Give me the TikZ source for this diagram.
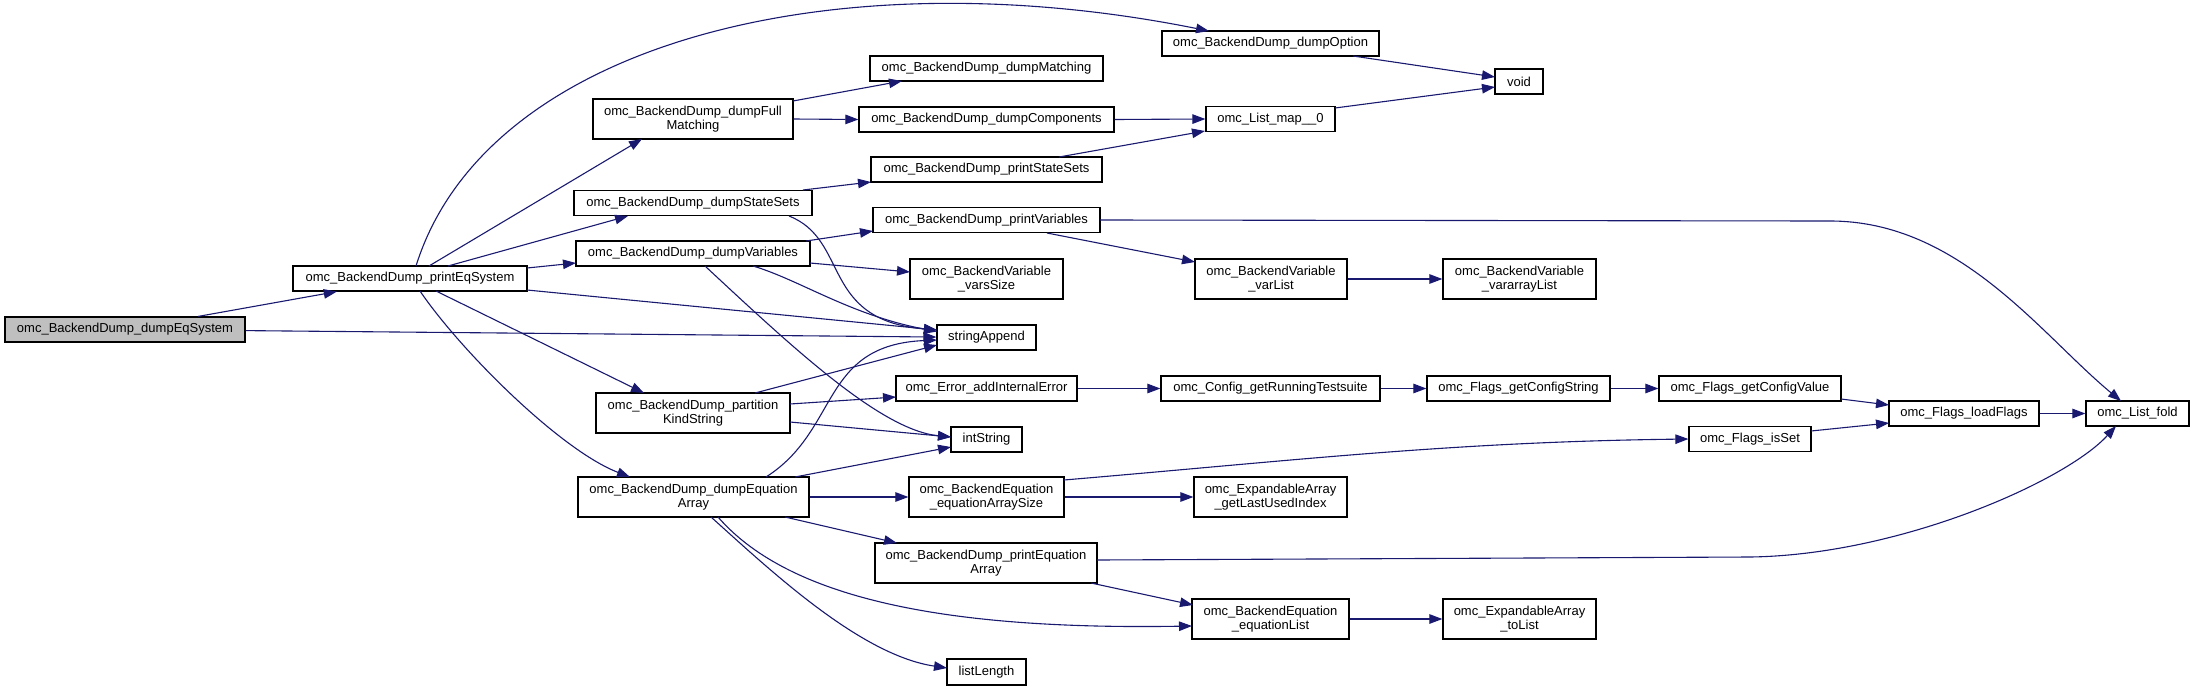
\documentclass[tikz,border=0pt]{standalone}
\usepackage{fontspec}
\setmainfont{Liberation Sans}
\usetikzlibrary{arrows.meta,calc}
\definecolor{edgeblue}{HTML}{191970}
\definecolor{rootgray}{HTML}{BFBFBF}
\tikzset{
  box/.style={draw=black, line width=1.2pt, fill=white, rectangle, inner sep=0pt, align=center, font=\fontsize{13}{14.7}\selectfont},
  call/.style={draw=edgeblue, line width=1.1pt, -{Triangle[length=13pt,width=9.5pt]}},
}
\begin{document}
\begin{tikzpicture}[x=1pt,y=-1pt]
\useasboundingbox (0,0) rectangle (2195,691);
% nodes
\node[box, fill=rootgray, minimum width=240, minimum height=25] (A) at (125,329.5) {omc\_BackendDump\_dumpEqSystem};
\node[box, minimum width=234, minimum height=25] (B) at (410,278.5) {omc\_BackendDump\_printEqSystem};
\node[box, minimum width=217, minimum height=25] (C) at (1270.5,43.5) {omc\_BackendDump\_dumpOption};
\node[box, minimum width=233, minimum height=25] (D) at (986.5,68.5) {omc\_BackendDump\_dumpMatching};
\node[box, minimum width=200, minimum height=40] (E) at (693,119) {omc\_BackendDump\_dumpFull\\Matching};
\node[box, minimum width=255, minimum height=25] (F) at (986.5,119.5) {omc\_BackendDump\_dumpComponents};
\node[box, minimum width=48, minimum height=25] (G) at (1519,81.5) {void};
\node[box, minimum width=129, minimum height=25] (H) at (1270.5,119) {omc\_List\_map\_\_0};
\node[box, minimum width=231, minimum height=25] (I) at (986.5,169.5) {omc\_BackendDump\_printStateSets};
\node[box, minimum width=238, minimum height=25] (J) at (693,203) {omc\_BackendDump\_dumpStateSets};
\node[box, minimum width=227, minimum height=25] (K) at (986.5,220) {omc\_BackendDump\_printVariables};
\node[box, minimum width=234, minimum height=25] (L) at (693,253.5) {omc\_BackendDump\_dumpVariables};
\node[box, minimum width=153, minimum height=40] (M) at (986.5,279) {omc\_BackendVariable\\\_varsSize};
\node[box, minimum width=152, minimum height=40] (N) at (1271,279) {omc\_BackendVariable\\\_varList};
\node[box, minimum width=153, minimum height=40] (O) at (1519.5,279) {omc\_BackendVariable\\\_vararrayList};
\node[box, minimum width=99, minimum height=25] (P) at (986.5,337.5) {stringAppend};
\node[box, minimum width=181, minimum height=25] (Q) at (986.5,388.5) {omc\_Error\_addInternalError};
\node[box, minimum width=219, minimum height=25] (R) at (1270.5,388.5) {omc\_Config\_getRunningTestsuite};
\node[box, minimum width=183, minimum height=25] (S) at (1518.5,388.5) {omc\_Flags\_getConfigString};
\node[box, minimum width=182, minimum height=25] (T) at (1750,388.5) {omc\_Flags\_getConfigValue};
\node[box, minimum width=150, minimum height=25] (U) at (1964,413.5) {omc\_Flags\_loadFlags};
\node[box, minimum width=103, minimum height=25] (V) at (2137.5,413.5) {omc\_List\_fold};
\node[box, minimum width=122, minimum height=25] (W) at (1750,439) {omc\_Flags\_isSet};
\node[box, minimum width=194, minimum height=40] (X) at (693,413) {omc\_BackendDump\_partition\\KindString};
\node[box, minimum width=71, minimum height=25] (Y) at (986.5,439.5) {intString};
\node[box, minimum width=231, minimum height=40] (Z) at (693.5,497) {omc\_BackendDump\_dumpEquation\\Array};
\node[box, minimum width=155, minimum height=40] (AA) at (986.5,497) {omc\_BackendEquation\\\_equationArraySize};
\node[box, minimum width=153, minimum height=40] (AB) at (1270.5,497) {omc\_ExpandableArray\\\_getLastUsedIndex};
\node[box, minimum width=222, minimum height=40] (AC) at (986,563) {omc\_BackendDump\_printEquation\\Array};
\node[box, minimum width=157, minimum height=40] (AD) at (1270.5,619) {omc\_BackendEquation\\\_equationList};
\node[box, minimum width=153, minimum height=40] (AE) at (1519.5,619) {omc\_ExpandableArray\\\_toList};
\node[box, minimum width=79, minimum height=26] (AF) at (986.5,672) {listLength};
% edges
\draw[call] (A) -- (B);
\draw[call] (A) -- (P);
\draw[call] ($(B)+(6,-12.5)$) .. controls (485,45) and (830,-45) .. ($(C)+(-61.5,-12.5)$);
\draw[call] ($(B)+(19,-12.5)$) -- ($(E)+(-51,20)$);
\draw[call] ($(B)+(38,-12.5)$) -- ($(J)+(-65,13)$);
\draw[call] ($(B)+(117,-10.5)$) -- ($(L)+(-117,9.5)$);
\draw[call] ($(B)+(117,11.5)$) -- ($(P)+(-49.5,-7.5)$);
\draw[call] ($(B)+(26,12.5)$) -- ($(X)+(-49,-20)$);
\draw[call] ($(B)+(10,12.5)$) .. controls (460,350) and (560,450) .. ($(Z)+(-63.5,-20)$);
\draw[call] ($(C)+(82.5,12.5)$) -- ($(G)+(-24,-4.5)$);
\draw[call] ($(E)+(100,-18)$) -- ($(D)+(-84.5,12.5)$);
\draw[call] (E.east) -- (F.west);
\draw[call] (F.east) -- (H.west);
\draw[call] ($(I)+(72.5,-12.5)$) -- ($(H)+(-65.5,12)$);
\draw[call] ($(H)+(64.5,-11)$) -- ($(G)+(-24,5.5)$);
\draw[call] ($(J)+(110,-13)$) -- ($(I)+(-115.5,12.5)$);
\draw[call] ($(J)+(96,13)$) .. controls (850,240) and (820,320) .. ($(P)+(-49.5,-7.5)$);
\draw[call] ($(L)+(113,-12.5)$) -- ($(K)+(-113.5,11)$);
\draw[call] ($(L)+(117,9.5)$) -- ($(M)+(-76.5,-7)$);
\draw[call] ($(L)+(60,12.5)$) .. controls (800,280) and (850,315) .. ($(P)+(-49.5,-6)$);
\draw[call] ($(L)+(12,12.5)$) .. controls (790,345) and (880,430) .. ($(Y)+(-35.5,-2.5)$);
\draw[call] ($(K)+(113.5,0)$) -- (1830,221) .. controls (1960,221) and (2041,335) .. ($(V)+(-16.5,-12.5)$);
\draw[call] ($(K)+(60.5,13)$) -- ($(N)+(-76,-17)$);
\draw[call] (N.east) -- (O.west);
\draw[call] ($(X)+(62,-20)$) -- ($(P)+(-49.5,7.5)$);
\draw[call] ($(X)+(97,-9)$) -- ($(Q)+(-90.5,8.5)$);
\draw[call] ($(X)+(97,9)$) -- ($(Y)+(-35.5,-2.5)$);
\draw[call] (Q.east) -- (R.west);
\draw[call] (R.east) -- (S.west);
\draw[call] (S.east) -- (T.west);
\draw[call] ($(T)+(91,10.5)$) -- ($(U)+(-75,-8.5)$);
\draw[call] (U.east) -- (V.west);
\draw[call] ($(W)+(61,-8)$) -- ($(U)+(-75,9.5)$);
\draw[call] ($(AA)+(77.5,-17)$) .. controls (1300,460) and (1450,442) .. (W.west);
\draw[call] (AA.east) -- (AB.west);
\draw[call] ($(Z)+(72.5,-20)$) .. controls (840,430) and (820,345) .. ($(P)+(-49.5,2.5)$);
\draw[call] ($(Z)+(101.5,-20)$) -- ($(Y)+(-35.5,7.5)$);
\draw[call] (Z.east) -- (AA.west);
\draw[call] ($(Z)+(91.5,20)$) -- ($(AC)+(-89,-20)$);
\draw[call] ($(Z)+(24.5,20)$) .. controls (790,600) and (950,630) .. ($(AD)+(-78.5,7)$);
\draw[call] ($(Z)+(17.5,20)$) .. controls (770,570) and (860,655) .. ($(AF)+(-39.5,-4)$);
\draw[call] ($(AC)+(111,-3)$) -- (1750,557) .. controls (1900,555) and (2066,481) .. ($(V)+(-21.5,12.5)$);
\draw[call] ($(AC)+(105,20)$) -- ($(AD)+(-77.5,-14)$);
\draw[call] (AD.east) -- (AE.west);
\end{tikzpicture}
\end{document}
